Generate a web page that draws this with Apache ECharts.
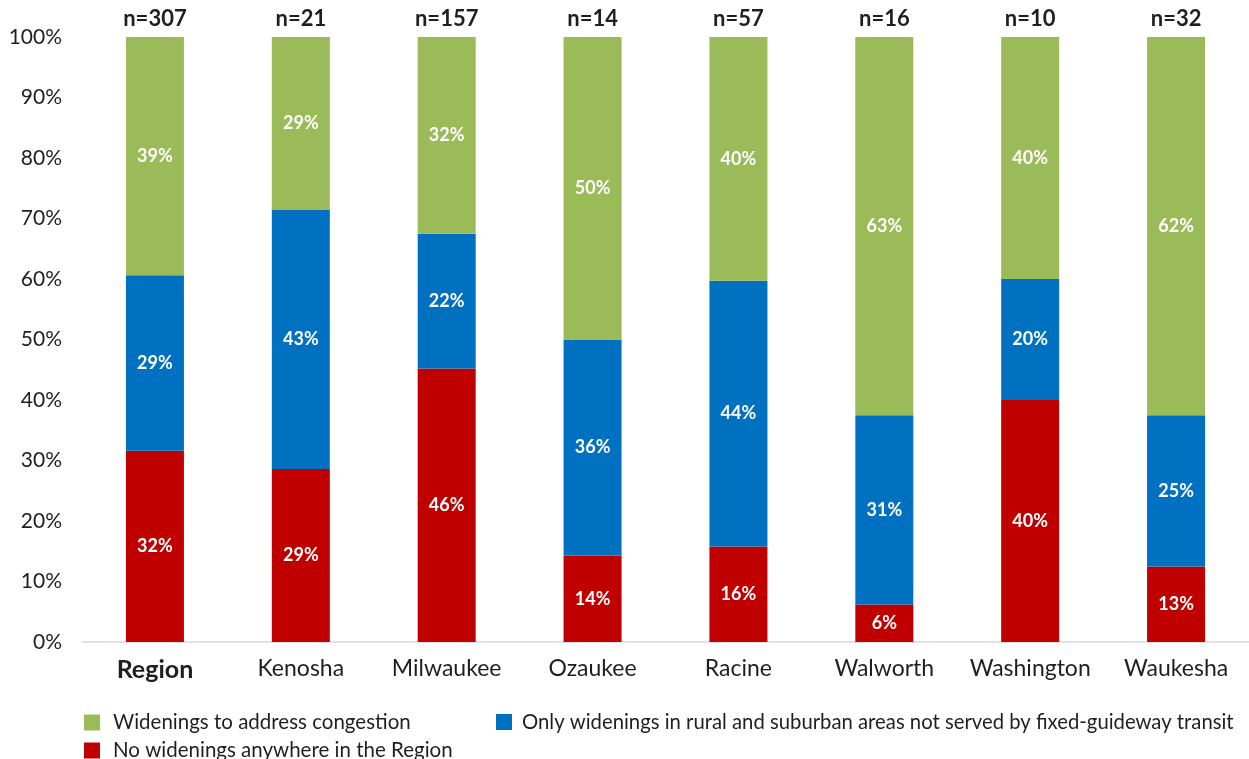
<!DOCTYPE html>
<html>
<head>
<meta charset="utf-8">
<script src="https://cdn.jsdelivr.net/npm/echarts@6/dist/echarts.min.js"></script>
<style>
	html, body { margin: 0; padding: 0; background: #fff; }
	#chart { width: 1249px; height: 759px; }
</style>
</head>
<body>
<div id="chart"></div>
<script>
	var categories = ['Region', 'Kenosha', 'Milwaukee', 'Ozaukee', 'Racine', 'Walworth', 'Washington', 'Waukesha'];
	var sampleSizes = ['n=307', 'n=21', 'n=157', 'n=14', 'n=57', 'n=16', 'n=10', 'n=32'];

	// percent of respondents
	var noWidenings = [31.6, 28.6, 45.2, 14.3, 15.8, 6.2, 40.0, 12.5];
	var onlyRural = [29.0, 42.9, 22.3, 35.7, 43.9, 31.3, 20.0, 25.0];
	var congestion = [39.4, 28.5, 32.5, 50.0, 40.3, 62.5, 40.0, 62.5];

	// labels as printed on the bars
	var noWideningsLabels = ['32%', '29%', '46%', '14%', '16%', '6%', '40%', '13%'];
	var onlyRuralLabels = ['29%', '43%', '22%', '36%', '44%', '31%', '20%', '25%'];
	var congestionLabels = ['39%', '29%', '32%', '50%', '40%', '63%', '40%', '62%'];

	var yTicks = ['0%', '10%', '20%', '30%', '40%', '50%', '60%', '70%', '80%', '90%', '100%'];

	var fontName = 'Lato, "DejaVu Sans", sans-serif';
	var textColor = '#1f1f1f';
	var colors = ['#c00000', '#0070c0', '#9bbb59'];

	function barLabel(labels) {
		return {
			show: true,
			position: 'inside',
			color: '#fff',
			fontFamily: fontName,
			fontWeight: 'bold',
			fontSize: 18,
			formatter: function (p) { return labels[p.dataIndex]; }
		};
	}

	function legendAt(left, top, name, size, pad) {
		return {
			left: left, top: top,
			itemWidth: 16, itemHeight: 16, icon: 'rect',
			textStyle: { fontSize: size, color: textColor, fontFamily: fontName, padding: [0, 0, 0, pad] },
			data: [name]
		};
	}

	var chart = echarts.init(document.getElementById('chart'));
	chart.setOption({
		color: colors,
		animation: false,
		textStyle: { fontFamily: fontName },
		grid: { left: 82, right: 0, top: 37, bottom: 117 },
		legend: [
			legendAt(79, 707, 'Widenings to address congestion', 20.5, 8),
			legendAt(491, 707, 'Only widenings in rural and suburban areas not served by fixed-guideway transit', 20.3, 5),
			legendAt(79, 735, 'No widenings anywhere in the Region', 20.5, 8)
		],
		xAxis: [{
			type: 'category',
			data: categories,
			axisLine: { lineStyle: { color: '#d9d9d9', width: 1.5 } },
			axisTick: { show: false },
			axisLabel: {
				interval: 0,
				fontSize: 23, color: textColor, margin: 15,
				formatter: function (v) { return v === 'Region' ? '{b|' + v + '}' : v; },
				rich: { b: { fontSize: 25, fontWeight: 'bold', color: textColor, fontFamily: fontName } }
			}
		}, {
			type: 'category',
			position: 'top',
			data: sampleSizes,
			axisLine: { show: false },
			axisTick: { show: false },
			axisLabel: { interval: 0, fontSize: 22, fontWeight: 'bold', color: textColor, margin: 7 }
		}],
		yAxis: {
			type: 'value',
			min: 0, max: 100, interval: 10,
			splitLine: { show: false },
			axisLine: { show: false },
			axisLabel: {
				fontSize: 21, color: textColor, margin: 20,
				formatter: function (v) { return yTicks[Math.round(v / 10)]; }
			}
		},
		series: [{
			name: 'No widenings anywhere in the Region',
			type: 'bar', stack: 'all', barWidth: 58,
			data: noWidenings,
			label: barLabel(noWideningsLabels)
		}, {
			name: 'Only widenings in rural and suburban areas not served by fixed-guideway transit',
			type: 'bar', stack: 'all', barWidth: 58,
			data: onlyRural,
			label: barLabel(onlyRuralLabels)
		}, {
			name: 'Widenings to address congestion',
			type: 'bar', stack: 'all', barWidth: 58,
			data: congestion,
			label: barLabel(congestionLabels)
		}]
	});
</script>
</body>
</html>
